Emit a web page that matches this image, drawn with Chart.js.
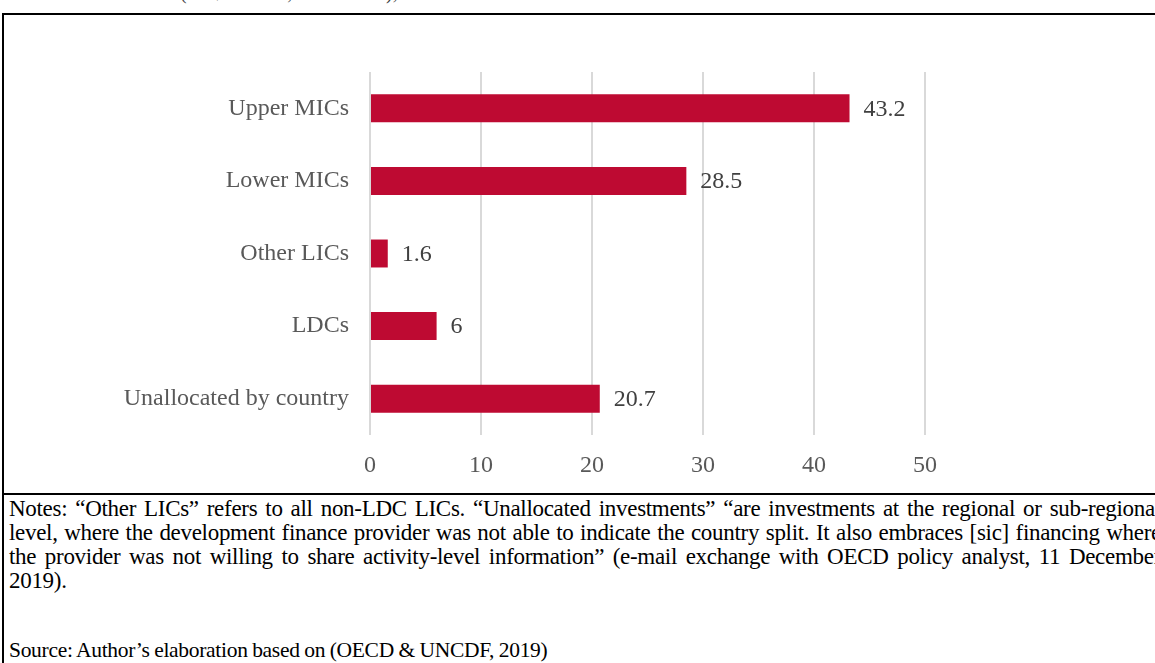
<!DOCTYPE html>
<html lang="en">
<head>
  <meta charset="UTF-8" />
  <title>Development finance by income group</title>
  <script src="https://cdn.jsdelivr.net/npm/chart.js"></script>
  <style>
    body {
      margin: 0;
      width: 1155px;
      height: 663px;
      overflow: hidden;
      position: relative;
      background: #fff;
      font-family: "Liberation Serif", "Times New Roman", serif;
    }
    .title-cut {
      position: absolute;
      left: 180px;
      top: -19px;
      font-size: 20px;
      color: #404040;
      white-space: nowrap;
    }
    .frame {
      position: absolute;
      left: 2px;
      top: 13px;
      width: 1300px;
      height: 800px;
      border-left: 2px solid #000;
      border-top: 2px solid #000;
    }
    .sep {
      position: absolute;
      left: 2px;
      top: 493px;
      width: 1300px;
      height: 2px;
      background: #000;
    }
    #wrap {
      position: absolute;
      left: 4px;
      top: 15px;
      width: 1151px;
      height: 478px;
    }
    .notes {
      position: absolute;
      left: 9px;
      top: 497px;
      font-size: 23px;
      line-height: 24px;
      letter-spacing: -0.3px;
      word-spacing: -1.5px;
      color: #000;
    }
    .notes div {
      width: 1152px;
      white-space: nowrap;
      text-align: justify;
      text-align-last: justify;
    }
    .notes div.last {
      text-align-last: left;
    }
    .source {
      position: absolute;
      left: 9px;
      top: 638px;
      font-size: 21.5px;
      letter-spacing: -0.3px;
      word-spacing: -0.5px;
      white-space: nowrap;
      color: #000;
    }
  </style>
</head>
<body>
  <div class="title-cut">(US$ billions, cumulative), 2012–17</div>
  <div class="frame"></div>
  <div class="sep"></div>
  <div id="wrap"><canvas id="barChart" width="1151" height="478"></canvas></div>
  <div class="notes">
    <div>Notes: “Other LICs” refers to all non-LDC LICs. “Unallocated investments” “are investments at the regional or sub-regional</div>
    <div>level, where the development finance provider was not able to indicate the country split. It also embraces [sic] financing where</div>
    <div>the provider was not willing to share activity-level information” (e-mail exchange with OECD policy analyst, 11 December</div>
    <div class="last">2019).</div>
  </div>
  <div class="source">Source: Author’s elaboration based on (OECD &amp; UNCDF, 2019)</div>

  <script>
    // datos del grafico
    const categorias = ['Upper MICs', 'Lower MICs', 'Other LICs', 'LDCs', 'Unallocated by country'];
    const valores = [43.2, 28.5, 1.6, 6, 20.7];
    const ejeMin = 0;
    const ejeMax = 50;
    const ejePaso = 10;

    // etiquetas al final de cada barra
    const etiquetasBarras = {
      id: 'etiquetasBarras',
      afterDatasetsDraw(chart) {
        const ctx = chart.ctx;
        const meta = chart.getDatasetMeta(0);
        ctx.save();
        ctx.font = '24px "Liberation Serif"';
        ctx.fillStyle = '#404040';
        ctx.textAlign = 'left';
        ctx.textBaseline = 'middle';
        meta.data.forEach((bar, i) => {
          ctx.fillText(String(valores[i]), bar.x + 14, bar.y + 1);
        });
        ctx.restore();
      }
    };

    const ctx = document.getElementById('barChart').getContext('2d');
    new Chart(ctx, {
      type: 'bar',
      data: {
        labels: categorias,
        datasets: [{
          data: valores,
          backgroundColor: '#BE0A32',
          borderWidth: 0,
          barPercentage: 0.385,
          categoryPercentage: 1
        }]
      },
      options: {
        indexAxis: 'y',
        responsive: false,
        animation: false,
        devicePixelRatio: 1,
        layout: {
          padding: { top: 57, right: 230, bottom: 0, left: 0 }
        },
        plugins: {
          legend: { display: false },
          tooltip: { enabled: false }
        },
        scales: {
          x: {
            min: ejeMin,
            max: ejeMax,
            border: { display: false },
            grid: { color: '#d9d9d9', lineWidth: 2, drawTicks: false },
            ticks: {
              stepSize: ejePaso,
              padding: 16,
              color: '#595959',
              font: { family: 'Liberation Serif', size: 24 }
            },
            afterFit(scale) { scale.height = 58; }
          },
          y: {
            border: { display: false },
            grid: { display: false, drawTicks: false },
            ticks: {
              padding: 21,
              color: '#595959',
              font: { family: 'Liberation Serif', size: 24 }
            },
            afterFit(scale) { scale.width = 366; }
          }
        }
      },
      plugins: [etiquetasBarras]
    });
  </script>
</body>
</html>
